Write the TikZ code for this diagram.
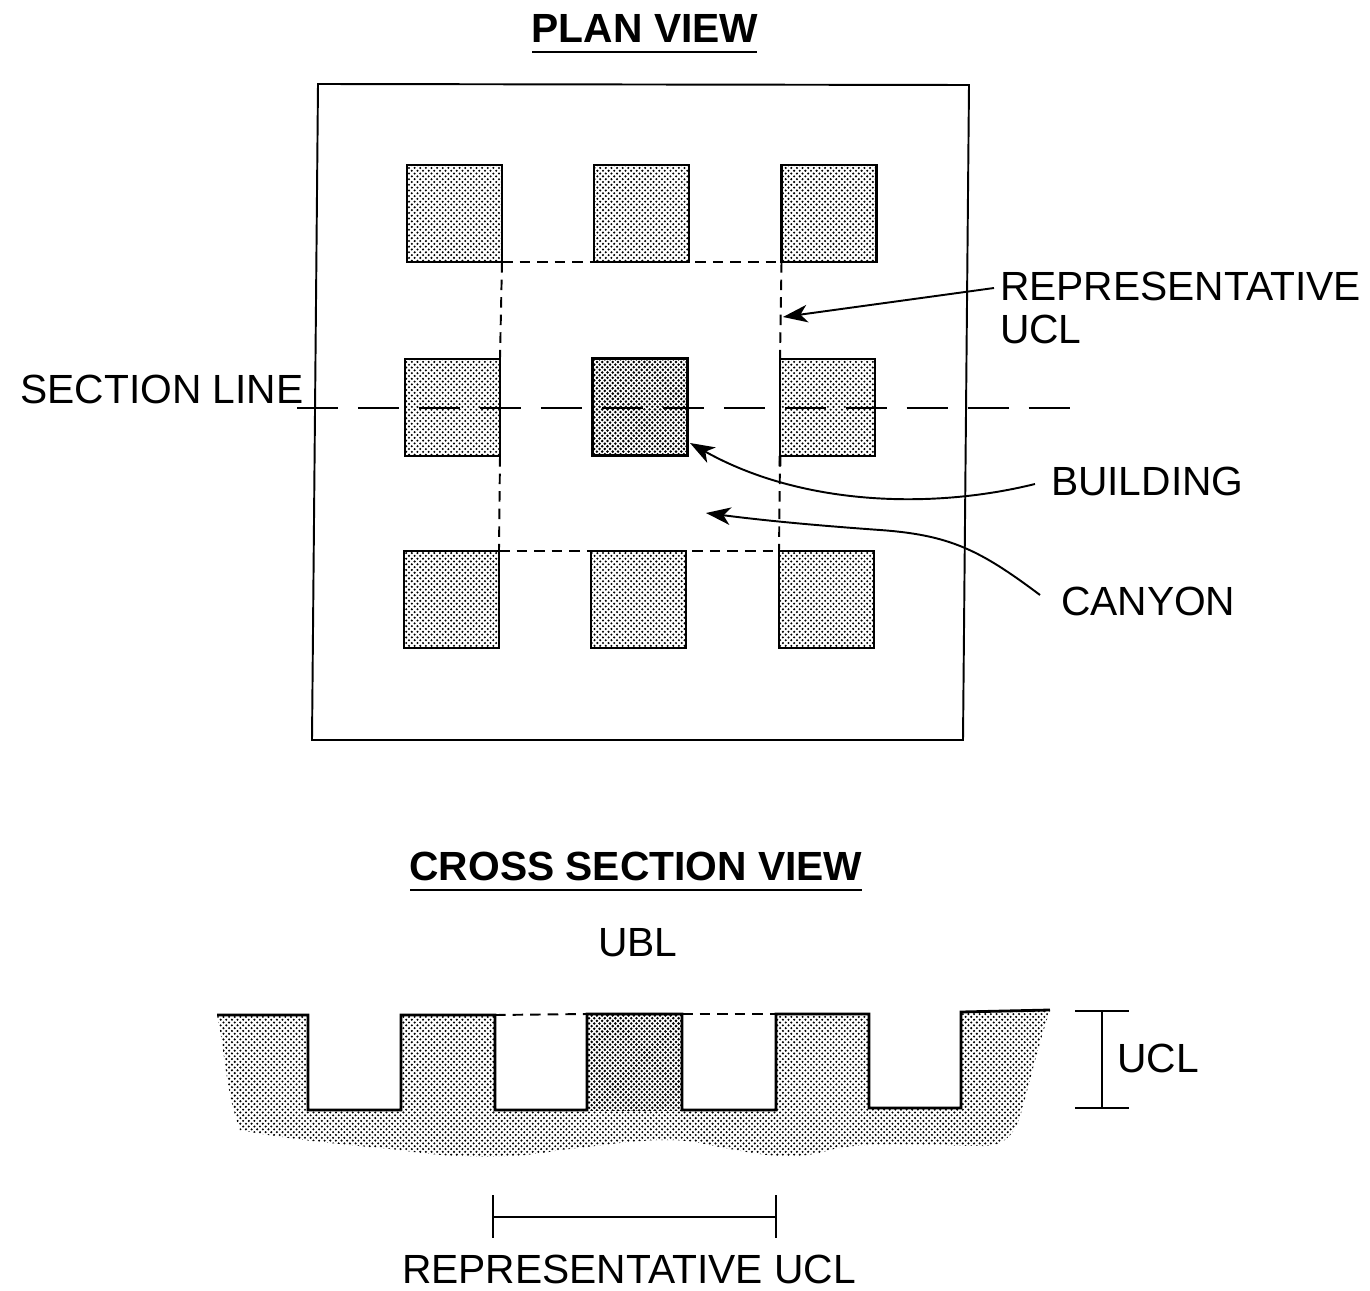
\documentclass[tikz,border=0pt]{standalone}
\usepackage{fontspec}
\setmainfont{Liberation Sans}
\usetikzlibrary{arrows.meta,patterns}
\pgfdeclarepatternformonly{stiplight}{\pgfqpoint{-1pt}{-1pt}}{\pgfqpoint{3.2pt}{3.2pt}}{\pgfqpoint{3.2pt}{3.2pt}}{
  \pgfpathcircle{\pgfqpoint{0.8pt}{0.8pt}}{0.66pt}
  \pgfpathcircle{\pgfqpoint{2.4pt}{2.4pt}}{0.66pt}
  \pgfusepath{fill}}
\pgfdeclarepatternformonly{stipdark}{\pgfqpoint{-1pt}{-1pt}}{\pgfqpoint{3pt}{3pt}}{\pgfqpoint{3pt}{3pt}}{
  \pgfpathcircle{\pgfqpoint{0.75pt}{0.75pt}}{0.8pt}
  \pgfpathcircle{\pgfqpoint{2.25pt}{2.25pt}}{0.8pt}
  \pgfusepath{fill}}
\tikzset{
  x=0.02cm,y=-0.02cm,
  bldg/.style={draw=black,line width=1.6pt,pattern=stiplight,minimum width=1.9cm,minimum height=1.94cm,inner sep=0pt,outer sep=0pt},
  bldgdark/.style={bldg,pattern=stipdark},
  lbl/.style={font=\fontsize{23.2pt}{23.2pt}\selectfont,inner sep=0pt,outer sep=0pt},
  lblleft/.style={lbl,anchor=west},
  ttl/.style={font=\fontsize{23.2pt}{23.2pt}\selectfont\bfseries,inner sep=0pt,outer sep=0pt},
  frame/.style={line width=1.1pt},
  ucl/.style={line width=1.1pt,dash pattern=on 6pt off 4pt},
  secline/.style={line width=1.1pt,dash pattern=on 23.3pt off 11.4pt},
  lead/.style={line width=1.1pt,-{Stealth[length=14pt,width=10pt,inset=4pt]}},
  dim/.style={line width=0.9pt},
  rule/.style={line width=1.5pt},
}
\begin{document}
\begin{tikzpicture}
\useasboundingbox[fill=white] (0,0) rectangle (1370,1291);

% plan view frame
\draw[frame] (318,84) -- (969,85) -- (963,740) -- (312,740) -- cycle;

% buildings
\node[bldg] (b11) at (454.5,213.5) {};
\node[bldg] (b12) at (641.5,213.5) {};
\node[bldg] (b13) at (829,213.5) {};
\node[bldg] (b21) at (452.5,407.5) {};
\node[bldgdark] (b22) at (640,407) {};
\node[bldg] (b23) at (827.5,407.5) {};
\node[bldg] (b31) at (451.5,599.5) {};
\node[bldg] (b32) at (638.5,599.5) {};
\node[bldg] (b33) at (826.5,599.5) {};

% representative UCL, plan
\draw[ucl] (b11.south east) -- (b13.south west);
\draw[ucl] (b11.south east) -- (b21.north east);
\draw[ucl] (b21.south east) -- (b31.north east);
\draw[ucl] (b31.north east) -- (b33.north west);
\draw[ucl] (b13.south west) -- (b23.north west);
\draw[ucl] (b23.south west) -- (b33.north west);
\coordinate (wallend) at (780,466);
\draw[line width=1.5pt] (b23.south west) -- (wallend);

% section line
\coordinate (secA) at (297,408);
\coordinate (secB) at (1072,408);
\draw[secline] (secA) -- (secB);

% labels
\node[ttl] (tplan) at (645,28) {PLAN VIEW};
\coordinate (tplanA) at (532,52);
\coordinate (tplanB) at (757,52);
\draw[rule] (tplanA) -- (tplanB);

\node[lbl] (lsec) at (162,389) {SECTION LINE};
\node[lblleft] (lrep) at (1000,286) {REPRESENTATIVE};
\node[lblleft] (lrep2) at (1000,329) {UCL};
\node[lblleft] (lbld) at (1051,481) {BUILDING};
\node[lblleft] (lcan) at (1061,601) {CANYON};

% leaders
\coordinate (repTip) at (783,317);
\coordinate (canTip) at (706,513);
\coordinate (bldTip) at (690,443);
\draw[lead] (lrep.west) ++(-6,2) -- (repTip);
\draw[lead] (lbld.west) ++(-16,3) .. controls (930,510) and (800,505) .. (bldTip);
\draw[lead] (lcan.west) ++(-21,-6) .. controls (980,550) and (950,535) .. (880,530) .. controls (810,525) and (760,520) .. (canTip);

% cross section
\node[ttl] (tcross) at (636,866) {CROSS SECTION VIEW};
\coordinate (tcrossA) at (410,890);
\coordinate (tcrossB) at (862,890);
\draw[rule] (tcrossA) -- (tcrossB);
\node[lbl] (lubl) at (638,943) {UBL};

% ground mass
\fill[pattern=stiplight]
  (217,1015) -- (308,1015) -- (308,1110) -- (401,1110) -- (401,1015) -- (495,1015)
  -- (495,1110) -- (587,1110) -- (587,1014) -- (682,1014) -- (682,1110) -- (776,1110)
  -- (776,1014) -- (869,1014) -- (869,1108) -- (961,1108) -- (961,1012) -- (1050,1010)
  .. controls (1040,1040) and (1030,1080) .. (1022,1110)
  .. controls (1015,1135) and (1005,1145) .. (985,1146)
  .. controls (930,1146) and (870,1140) .. (830,1150)
  .. controls (790,1162) and (760,1155) .. (700,1143)
  .. controls (660,1135) and (610,1145) .. (560,1150)
  .. controls (510,1160) and (450,1158) .. (400,1150)
  .. controls (350,1145) and (290,1140) .. (240,1130)
  .. controls (225,1090) and (225,1050) .. (217,1015) -- cycle;
\fill[white] (587,1014) rectangle (682,1110);
\fill[pattern=stipdark] (587,1014) rectangle (682,1110);

% profile
\draw[line width=1.6pt,line join=miter]
  (217,1015) -- (308,1015) -- (308,1110) -- (401,1110) -- (401,1015) -- (495,1015)
  -- (495,1110) -- (587,1110) -- (587,1014) -- (682,1014) -- (682,1110) -- (776,1110)
  -- (776,1014) -- (869,1014) -- (869,1108) -- (961,1108) -- (961,1012) -- (1050,1010);
\coordinate (pA) at (495,1015);
\coordinate (pB) at (587,1014);
\coordinate (pC) at (682,1014);
\coordinate (pD) at (776,1014);
\fill[white] (497,1011) rectangle (585,1019);
\fill[white] (684,1011) rectangle (774,1019);
\draw[ucl] (pA) -- (pB);
\draw[ucl] (pC) -- (pD);

% UCL dimension
\coordinate (dA) at (1075,1011);
\coordinate (dB) at (1129,1011);
\coordinate (dC) at (1075,1108);
\coordinate (dD) at (1129,1108);
\coordinate (dE) at (1102,1011);
\coordinate (dF) at (1102,1108);
\draw[dim] (dA) -- (dB);
\draw[dim] (dC) -- (dD);
\draw[dim] (dE) -- (dF);
\node[lbl] (lucl) at (1158,1058) {UCL};

% representative UCL dimension
\coordinate (rA) at (493,1195);
\coordinate (rB) at (493,1238);
\coordinate (rC) at (776,1195);
\coordinate (rD) at (776,1238);
\coordinate (rE) at (493,1217);
\coordinate (rF) at (776,1217);
\draw[dim] (rA) -- (rB);
\draw[dim] (rC) -- (rD);
\draw[dim] (rE) -- (rF);
\node[lbl] (lrepb) at (629,1269) {REPRESENTATIVE UCL};
\end{tikzpicture}
\end{document}
